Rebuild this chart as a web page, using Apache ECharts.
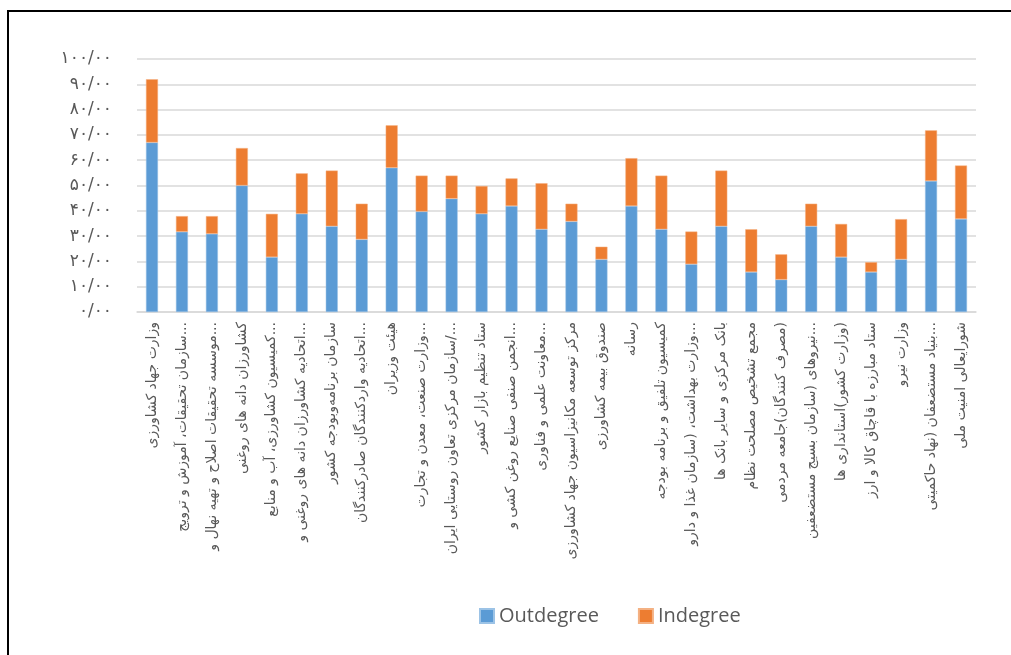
<!DOCTYPE html>
<html>
<head>
<meta charset="utf-8">
<script src="https://cdn.jsdelivr.net/npm/echarts@6/dist/echarts.min.js"></script>
<style>
  html, body { margin: 0; padding: 0; background: #fff; overflow: hidden; }
  #frame {
    position: absolute; left: 7px; top: 10px; width: 1100px; height: 800px;
    border: 2px solid #000; pointer-events: none; z-index: 2;
  }
  #chart { position: absolute; left: 0; top: 0; width: 1011px; height: 655px; }
</style>
</head>
<body>
<div id="chart"></div>
<div id="frame"></div>
<script>
// نهادها (برچسب محور افقی)
const actors = [
  'وزارت جهاد کشاورزی',
  'سازمان تحقیقات، آموزش و ترویج...',
  'موسسه تحقیقات اصلاح و تهیه نهال و...',
  'کشاورزان دانه های روغنی',
  'کمیسیون کشاورزی، آب و منابع...',
  'اتحادیه کشاورزان دانه های روغنی و...',
  'سازمان برنامه‌وبودجه کشور',
  'اتحادیه واردکنندگان صادرکنندگان...',
  'هیئت وزیران',
  'وزارت صنعت، معدن و تجارت...',
  'سازمان مرکزی تعاون روستایی ایران/...',
  'ستاد تنظیم بازار کشور',
  'انجمن صنفی صنایع روغن کشی و...',
  'معاونت علمی و فناوری...',
  'مرکز توسعه مکانیزاسیون جهاد کشاورزی',
  'صندوق بیمه کشاورزی',
  'رسانه',
  'کمیسیون تلفیق و برنامه بودجه',
  'وزارت بهداشت، (سازمان غذا و دارو...',
  'بانک مرکزی و سایر بانک ها',
  'مجمع تشخیص مصلحت نظام',
  '\u200F(مصرف کنندگان)جامعه مردمی',
  'نیروهای (سازمان بسیج مستضعفین...',
  '\u200F(وزارت کشور)استانداری ها',
  'ستاد مبارزه با قاچاق کالا و ارز',
  'وزارت نیرو',
  'بنیاد مستضعفان (نهاد حاکمیتی...',
  'شورایعالی امنیت ملی'
];

const outdegree = [67, 31.7, 30.9, 50, 21.7, 38.8, 33.9, 28.7, 57, 39.7, 44.8, 38.8, 41.9, 32.7,
  35.8, 20.8, 41.9, 32.7, 18.9, 33.9, 15.8, 12.8, 33.9, 21.7, 15.8, 20.8, 51.8, 36.8];
const indegree = [25, 6.2, 7, 14.8, 17.1, 16, 22, 14.1, 16.8, 14.2, 9.1, 11, 10.9, 18.2,
  7, 5, 18.9, 21.2, 12.9, 22, 16.9, 10, 8.9, 13.1, 3.9, 15.9, 20, 21.1];

const faDigits = '۰۱۲۳۴۵۶۷۸۹';
const toFa = (s) => String(s).replace(/[0-9]/g, (d) => faDigits[d]);

const chart = echarts.init(document.getElementById('chart'));

const option = {
  animation: false,
  color: ['#5b9bd5', '#ed7d31'],
  grid: { left: 137, right: 35, top: 59, bottom: 343, containLabel: false },
  legend: {
    data: ['Outdegree', 'Indegree'],
    left: 474,
    top: 601,
    itemWidth: 14,
    itemHeight: 14,
    itemGap: 39,
    icon: 'rect',
    textStyle: { color: '#595959', fontSize: 20, fontFamily: 'Open Sans' },
  },
  xAxis: {
    type: 'category',
    data: actors,
    axisLine: { lineStyle: { color: '#d9d9d9', width: 1.5 } },
    axisTick: { show: false },
    axisLabel: {
      interval: 0,
      rotate: 90,
      margin: 10,
      color: '#595959',
      fontSize: 14,
      fontFamily: 'DejaVu Sans',
    },
  },
  yAxis: {
    type: 'value',
    min: 0,
    max: 100,
    interval: 10,
    axisLine: { show: false },
    axisTick: { show: false },
    splitLine: { lineStyle: { color: '#d9d9d9', width: 1.5 } },
    axisLabel: {
      margin: 25,
      color: '#595959',
      fontSize: 17,
      fontFamily: 'DejaVu Sans',
      formatter: (v) => toFa(v) + '/' + toFa('00'),
    },
  },
  series: [
    { name: 'Outdegree', type: 'bar', stack: 'deg', barWidth: 12, data: outdegree,
      itemStyle: { borderColor: '#9cc3e6', borderWidth: 0.5 } },
    { name: 'Indegree', type: 'bar', stack: 'deg', barWidth: 12, data: indegree,
      itemStyle: { borderColor: '#f4b183', borderWidth: 0.5 } },
  ],
};

chart.setOption(option);
</script>
</body>
</html>
